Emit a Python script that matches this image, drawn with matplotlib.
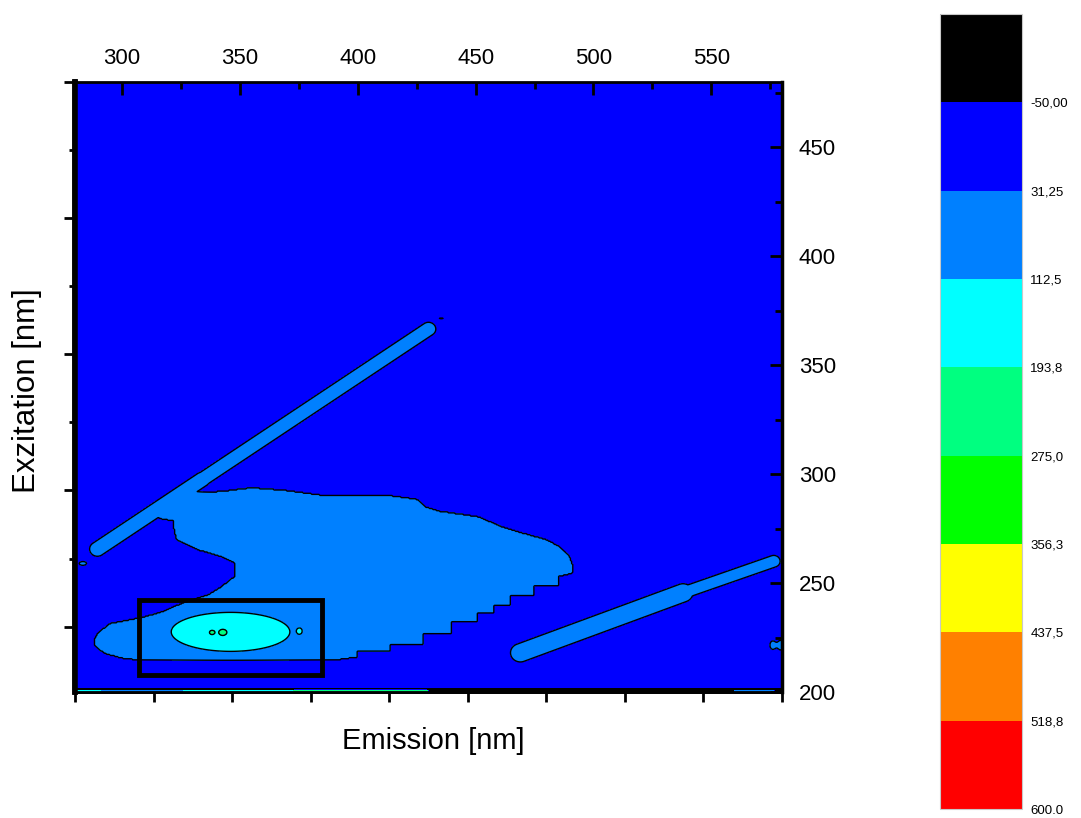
import numpy as np
import matplotlib
matplotlib.use("Agg")
import matplotlib.pyplot as plt
from matplotlib.path import Path
from matplotlib.patches import Rectangle

plt.rcParams['font.family'] = ['Liberation Sans', 'DejaVu Sans']

# contour levels and the colours between them
levels = [-131.25, -50.0, 31.25, 112.5, 193.75, 275.0, 356.25, 437.5, 518.75, 600.0]
level_colors = ["#000000", "#0000FF", "#0080FF", "#00FFFF", "#00FF80",
                "#00FF00", "#FFFF00", "#FF8000", "#FF0000"]
cbar_labels = ["-50,00", "31,25", "112,5", "193,8", "275,0", "356,3", "437,5", "518,8", "600.0"]

# broad low-intensity region (emission, excitation outline)
plateau_em = [330, 335, 345, 355, 370, 387, 400, 415, 425, 429, 435, 451, 461, 470, 480, 486, 490, 491.5, 491,
              485.5, 485, 475, 475, 465, 465, 458, 458, 451, 451, 440, 440, 428, 428, 414, 414, 400, 400, 393,
              380, 340, 307, 300, 293, 289.5, 288, 288.5, 290, 295, 302, 308, 316, 324, 330, 336.5, 342, 347.5,
              347.5, 342, 332, 323, 322, 321.5, 316.5, 314, 320, 326]
plateau_ex = [291.5, 291.5, 292.5, 293.8, 292.5, 290, 290, 290, 288.5, 285, 283, 280.5, 276, 273, 270, 266.5, 262, 257, 254.5,
              253, 248.5, 248.5, 244, 244, 239.5, 239.5, 236, 236, 232, 232, 226.5, 226.5, 221.5, 221.5, 218.5, 218.5, 216, 215,
              214.7, 214.7, 214.7, 215.5, 217.5, 220, 222, 225, 227.5, 231.5, 232.8, 234, 236.3, 240, 242.5, 244.6, 248.3, 252.9,
              259.3, 262.1, 265.3, 270, 274.5, 278.5, 279.5, 281, 286, 290]
plateau_value = 55.0

# scatter ridges: start/end points and half widths
ridge_em0 = [289.5, 334, 469, 538]
ridge_ex0 = [265.6, 297.6, 218, 245.5]
ridge_em1 = [334, 430, 538, 576.5]
ridge_ex1 = [297.6, 366.6, 245.5, 260]
ridge_hw = [3.3, 3.1, 4.2, 2.7]
ridge_amp = 60.0

# fluorescence peak and small spots (em, ex, amplitude, sigma_em, sigma_ex)
spot_em = [346.0, 338.0, 342.6, 375.5, 283.3, 435.5, 576.0, 579.5]
spot_ex = [227.6, 227.3, 227.3, 228.0, 259.0, 371.5, 221.5, 221.5]
spot_amp = [130.0, 30.0, 30.0, 24.0, 45.0, 34.0, 45.0, 45.0]
spot_sem = [19.7, 1.2, 1.2, 1.2, 1.8, 1.5, 1.3, 1.3]
spot_sex = [7.0, 1.1, 1.1, 1.6, 1.0, 0.5, 2.2, 2.5]

# lowest excitation rows (detector edge)
edge_ex = 202.5
edge_value = -100.0
line_em = [280, 291, 326, 373, 430, 560, 577, 580]
line_values = [150.0, 60.0, 150.0, 230.0, -100.0, 60.0, -100.0]

box_em = (307.2, 384.6)
box_ex = (208.0, 242.3)

em = np.arange(280, 580.01, 0.5)
ex = np.arange(200, 480.01, 0.5)
EM, EX = np.meshgrid(em, ex)

inside = Path(np.column_stack([plateau_em, plateau_ex])).contains_points(
    np.column_stack([EM.ravel(), EX.ravel()])).reshape(EM.shape)
Z = np.where(inside, plateau_value, 0.0)

for x0, y0, x1, y1, hw in zip(ridge_em0, ridge_ex0, ridge_em1, ridge_ex1, ridge_hw):
    dx, dy = x1 - x0, y1 - y0
    t = np.clip(((EM - x0) * dx + (EX - y0) * dy) / (dx * dx + dy * dy), 0, 1)
    d = np.hypot(EM - (x0 + t * dx), EX - (y0 + t * dy))
    s = hw / np.sqrt(2 * np.log(ridge_amp / levels[2]))
    Z = np.maximum(Z, ridge_amp * np.exp(-d ** 2 / (2 * s ** 2)))

for cx, cy, a, sx, sy in zip(spot_em, spot_ex, spot_amp, spot_sem, spot_sex):
    Z += a * np.exp(-((EM - cx) / sx) ** 2 / 2 - ((EX - cy) / sy) ** 2 / 2)

Z[ex < edge_ex, :] = edge_value
row_vals = np.array(line_values)[np.clip(np.searchsorted(line_em, em, side='right') - 1, 0, len(line_values) - 1)]
Z[np.argmin(np.abs(ex - 200.5)), :] = row_vals

fig = plt.figure(figsize=(10.81, 8.18), dpi=100)
ax = fig.add_axes([75 / 1081, 1 - 692 / 818, 707 / 1081, 610 / 818])

cf = ax.contourf(em, ex, Z, levels=levels, colors=level_colors)
keep = ex >= 203
ax.contour(em, ex[keep], Z[keep], levels=levels[1:-1], colors='black', linewidths=1.0)

ax.add_patch(Rectangle((box_em[0], box_ex[0]), box_em[1] - box_em[0], box_ex[1] - box_ex[0],
                       fill=False, edgecolor='black', linewidth=3.5, zorder=5))

ax.set_xlim(280, 580)
ax.set_ylim(200, 480)
ax.xaxis.tick_top()
ax.yaxis.tick_right()
ax.set_xticks(np.arange(300, 551, 50))
ax.set_xticks(np.arange(325, 576, 50), minor=True)
ax.set_yticks(np.arange(200, 451, 50))
ax.set_yticks(np.arange(225, 476, 50), minor=True)
ax.tick_params(axis='x', which='both', direction='in', top=True, bottom=False,
               labeltop=True, labelbottom=False, labelsize=16, pad=9, width=2)
ax.tick_params(axis='y', which='both', direction='in', right=True, left=False,
               labelright=True, labelleft=False, labelsize=16, pad=12, width=2)
ax.tick_params(which='major', length=9)
ax.tick_params(which='minor', length=5)
for side, lw in [('top', 2), ('right', 2.5), ('bottom', 2), ('left', 4)]:
    ax.spines[side].set_linewidth(lw)

# unlabelled tick scales on the left and bottom
sec_l = ax.secondary_yaxis('left')
sec_l.set_yticks([480, 417.5, 355, 292.5, 230])
sec_l.set_yticks([448.75, 386.25, 323.75, 261.25], minor=True)
sec_l.tick_params(which='both', direction='out', width=2, labelleft=False)
sec_l.tick_params(which='major', length=8)
sec_l.tick_params(which='minor', length=4.5)
sec_l.spines['left'].set_linewidth(4)

sec_b = ax.secondary_xaxis('bottom')
sec_b.set_xticks(np.linspace(280, 580, 10))
sec_b.tick_params(which='both', direction='out', length=7, width=2, labelbottom=False)
sec_b.spines['bottom'].set_linewidth(2)

fig.text(433 / 1081, 1 - 741 / 818, "Emission [nm]", fontsize=21, ha='center', va='center')
fig.text(27 / 1081, 1 - 391 / 818, "Exzitation [nm]", fontsize=22.5, rotation=90, ha='center', va='center')

cax = fig.add_axes([940 / 1081, 1 - 809 / 818, 82 / 1081, 795 / 818])
cb = fig.colorbar(cf, cax=cax)
cb.set_ticks(levels[1:])
cb.set_ticklabels(cbar_labels)
cax.invert_yaxis()
cax.tick_params(length=0, labelsize=9.5, pad=6)
cb.outline.set_edgecolor('#c8c8c8')
cb.outline.set_linewidth(0.8)

fig.savefig("out.png", dpi=100)
